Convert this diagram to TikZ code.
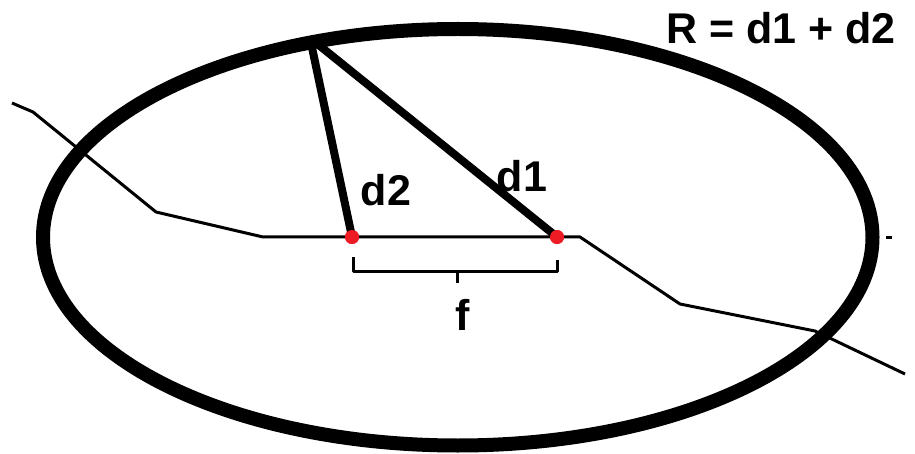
\documentclass[tikz,border=0pt]{standalone}
\usepackage{fontspec}
\setmainfont{Liberation Sans}
\usepackage{xcolor}
\definecolor{paintred}{RGB}{237,28,36}

\begin{document}
\begin{tikzpicture}[x=1pt, y=-1pt, line join=round,
		font=\fontsize{43pt}{50pt}\selectfont\bfseries,
		orbit/.style={line width=14pt},
		dline/.style={line width=8pt},
		thinline/.style={line width=3pt},
		focus/.style={circle, fill=paintred, minimum size=14pt, inner sep=0pt},
		lbl/.style={inner sep=0pt}]
		\useasboundingbox (0,0) rectangle (915,454);
		\draw[orbit] (457.75,237.25) ellipse [x radius=414.75pt, y radius=208.25pt];
		\coordinate (L0) at (12,103);
		\coordinate (L1) at (33,112);
		\coordinate (L2) at (156,212);
		\coordinate (L3) at (263,237);
		\coordinate (R0) at (580,237);
		\coordinate (R1) at (680,304);
		\coordinate (R2) at (815,331);
		\coordinate (R3) at (905,374);
		\coordinate (T0) at (886,238);
		\coordinate (T1) at (892,238);
		\coordinate (P) at (310,38);
		\draw[thinline] (L0) -- (L1) -- (L2) -- (L3) -- (R0) -- (R1) -- (R2) -- (R3);
		\draw[thinline] (T0) -- (T1);
		\node[focus] (F2) at (352,237) {};
		\node[focus] (F1) at (557,237) {};
		\draw[dline] (P) -- (F2.center);
		\draw[dline] (P) -- (F1.center);
		\node[focus] at (F2) {};
		\node[focus] at (F1) {};
		\coordinate (BL) at (353,257);
		\coordinate (BR) at (557,260);
		\coordinate (BM) at (457,272);
		\draw[thinline] (BL) |- (BM) -| (BR);
		\draw[thinline] (BM) -- ++(0,11);
		\node[lbl] (d2) at (386,190) {d2};
		\node[lbl] (d1) at (522,176) {d1};
		\node[lbl] (f) at (463,315) {f};
		\node[lbl] (R) at (781,28) {R = d1 + d2};
	\end{tikzpicture}
\end{document}
